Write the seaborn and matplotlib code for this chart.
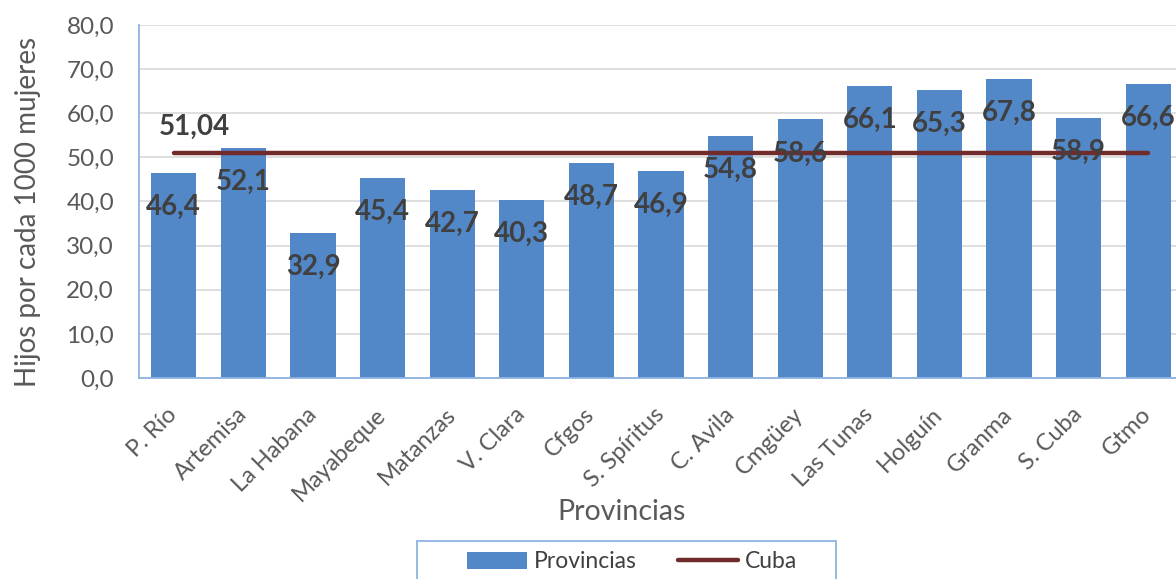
import matplotlib
matplotlib.use("Agg")
import matplotlib.pyplot as plt
import seaborn as sns
import pandas as pd
import numpy as np
from matplotlib.patches import Rectangle, Patch
from matplotlib.lines import Line2D

provincias = ["P. Río", "Artemisa", "La Habana", "Mayabeque", "Matanzas", "V. Clara",
              "Cfgos", "S. Spíritus", "C. Avila", "Cmgüey", "Las Tunas", "Holguín",
              "Granma", "S. Cuba", "Gtmo"]
valores = [46.4, 52.1, 32.9, 45.4, 42.7, 40.3, 48.7, 46.9, 54.8, 58.6, 66.1, 65.3, 67.8, 58.9, 66.6]
cuba_valor = 51.04
y_ticks = [0, 10, 20, 30, 40, 50, 60, 70, 80]

def coma(v, d=1):
    return f"{v:.{d}f}".replace(".", ",")

sns.set_theme(style="white")
plt.rcParams['font.family'] = ['Lato', 'DejaVu Sans']

BAR = "#5288C8"
LINE = "#722B2B"
GRAY = "#595959"
DARK = "#404040"

fig = plt.figure(figsize=(11.76, 5.79), dpi=100)
W, H = 1176, 579
ax = fig.add_axes([139 / W, 1 - 378 / H, 1044 / W, 353 / H])

df = pd.DataFrame({"Provincia": provincias, "Valor": valores})
sns.barplot(data=df, x="Provincia", y="Valor", color=BAR, saturation=1, width=0.65,
            linewidth=0, ax=ax, zorder=2)
xs = np.arange(len(provincias))
sns.lineplot(x=xs, y=[cuba_valor] * len(provincias), color=LINE, linewidth=3.2,
             ax=ax, zorder=3)

ax.set_xlim(-0.5, len(provincias) - 0.5)
ax.set_ylim(0, 80)
ax.set_yticks(y_ticks)
ax.set_yticklabels([coma(t) for t in y_ticks])
ax.yaxis.grid(True, color="#D9D9D9", linewidth=1.2, zorder=0)
ax.set_axisbelow(True)
for s in ["top", "right"]:
    ax.spines[s].set_visible(False)
for s in ["left", "bottom"]:
    ax.spines[s].set_color("#8DB3E2")
    ax.spines[s].set_linewidth(1.3)
ax.tick_params(axis="y", length=0, pad=18, labelsize=17.5, labelcolor=GRAY)
ax.tick_params(axis="x", length=0, pad=24, labelsize=17, labelcolor=GRAY)
for lab in ax.get_xticklabels():
    lab.set_rotation(45)
    lab.set_ha("right")
    lab.set_va("center")
    lab.set_rotation_mode("anchor")
ax.set_xlabel("")
ax.set_ylabel("")

# data labels
for i, v in enumerate(valores):
    ax.annotate(coma(v), (i, v), xytext=(0, -34 * 0.72), textcoords="offset points",
                ha="center", va="center", fontsize=20, fontweight="bold", color=DARK,
                zorder=4)
ax.annotate(coma(cuba_valor, 2), (0, cuba_valor), xytext=(21 * 0.72, 26 * 0.72),
            textcoords="offset points", ha="center", va="center", fontsize=20,
            fontweight="bold", color=DARK, zorder=4)

fig.text(622 / W, 1 - 512 / H, "Provincias", ha="center", va="center",
         fontsize=20.5, color=GRAY)
fig.text(28 / W, 1 - 212 / H, "Hijos por cada 1000 mujeres", ha="center", va="center",
         rotation=90, fontsize=20, color=GRAY)

# legend
handles = [Patch(facecolor=BAR, edgecolor="none"),
           Line2D([], [], color=LINE, linewidth=3.2)]
leg = fig.legend(handles, ["Provincias", "Cuba"], loc="center",
                 bbox_to_anchor=(632 / W, 1 - 562 / H), ncol=2, frameon=False,
                 fontsize=16.5, handlelength=2.6, handleheight=0.75, handletextpad=0.3,
                 columnspacing=1.8)
for t in leg.get_texts():
    t.set_color(DARK)
fig.patches.append(Rectangle((417 / W, -0.01), (836 - 417) / W, (579 - 541) / H + 0.01,
                             transform=fig.transFigure, fill=False,
                             edgecolor="#8DB3E2", linewidth=1.3))

fig.savefig("out.png", dpi=100)
